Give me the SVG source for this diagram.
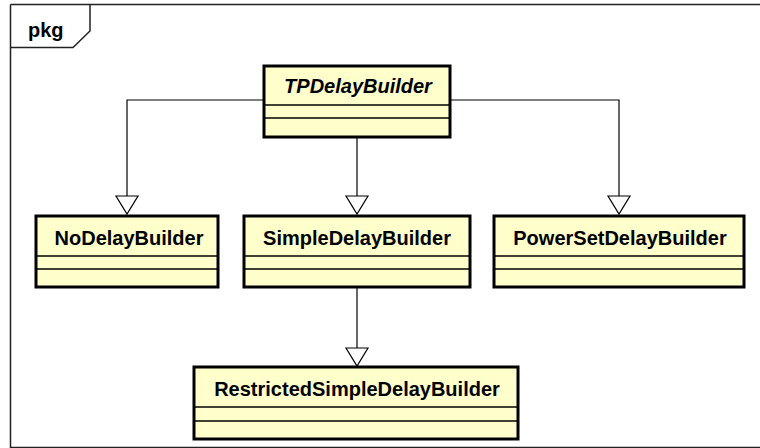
<svg xmlns="http://www.w3.org/2000/svg" width="760" height="448" viewBox="0 0 760 448">
  <style>
    .frame { fill: none; stroke: #222; stroke-width: 1.5; }
    .box { fill: #FFFFCC; stroke: #000; stroke-width: 3; }
    .div { stroke: #000; stroke-width: 1.5; }
    .name { font-family: "Liberation Sans", Arial, sans-serif; font-weight: bold; font-size: 20px; fill: #000; text-anchor: middle; }
    .abstract { font-style: italic; }
    .edge { fill: none; stroke: #000; stroke-width: 1.2; }
    .head { fill: #fff; stroke: #000; stroke-width: 1.2; }
    .label { font-family: "Liberation Sans", Arial, sans-serif; font-weight: bold; font-size: 20px; fill: #000; }
  </style>

  <!-- package frame -->
  <g id="package">
    <path class="frame" d="M10.5 4.5 H762 M10.5 4.5 V447.5 H762"/>
    <path class="frame" d="M10.5 47.5 H73 L90 31 V4.5"/>
    <text class="label" x="28" y="37">pkg</text>
  </g>

  <!-- generalization connectors -->
  <g id="connectors">
    <path class="edge" d="M263 100 H127 V196"/>
    <path class="edge" d="M450 100 H619 V196"/>
    <path class="edge" d="M357 137 V196"/>
    <path class="edge" d="M357 287 V348"/>
    <polygon class="head" points="116,196 138,196 127,214"/>
    <polygon class="head" points="346,196 368,196 357,214"/>
    <polygon class="head" points="608,196 630,196 619,214"/>
    <polygon class="head" points="346,348 368,348 357,366"/>
  </g>

  <g id="TPDelayBuilder">
    <rect class="box" x="264" y="66" width="186" height="71"/>
    <line class="div" x1="264" y1="105" x2="450" y2="105"/>
    <line class="div" x1="264" y1="118" x2="450" y2="118"/>
    <text class="name abstract" x="358" y="93">TPDelayBuilder</text>
  </g>

  <g id="NoDelayBuilder">
    <rect class="box" x="36" y="216" width="182" height="71"/>
    <line class="div" x1="36" y1="256" x2="218" y2="256"/>
    <line class="div" x1="36" y1="269" x2="218" y2="269"/>
    <text class="name" x="129" y="245">NoDelayBuilder</text>
  </g>

  <g id="SimpleDelayBuilder">
    <rect class="box" x="244" y="216" width="226" height="71"/>
    <line class="div" x1="244" y1="256" x2="470" y2="256"/>
    <line class="div" x1="244" y1="269" x2="470" y2="269"/>
    <text class="name" x="357" y="245">SimpleDelayBuilder</text>
  </g>

  <g id="PowerSetDelayBuilder">
    <rect class="box" x="494" y="216" width="250" height="71"/>
    <line class="div" x1="494" y1="256" x2="744" y2="256"/>
    <line class="div" x1="494" y1="269" x2="744" y2="269"/>
    <text class="name" x="620" y="245">PowerSetDelayBuilder</text>
  </g>

  <g id="RestrictedSimpleDelayBuilder">
    <rect class="box" x="194" y="367" width="324" height="72"/>
    <line class="div" x1="194" y1="407" x2="518" y2="407"/>
    <line class="div" x1="194" y1="421" x2="518" y2="421"/>
    <text class="name" x="357" y="396">RestrictedSimpleDelayBuilder</text>
  </g>
</svg>
